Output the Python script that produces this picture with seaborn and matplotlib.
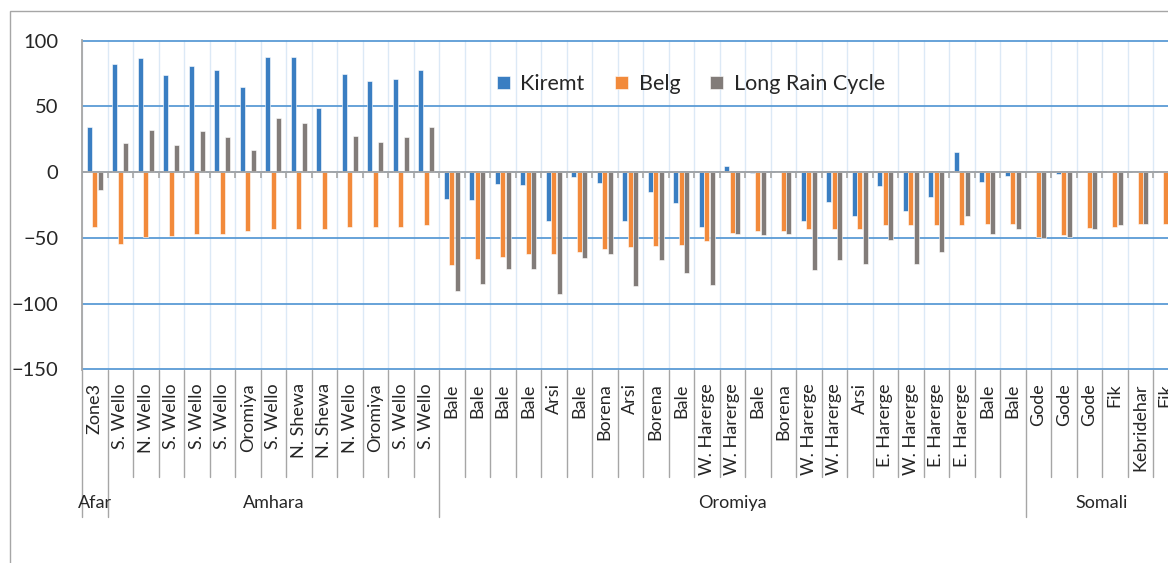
import numpy as np
import pandas as pd
import matplotlib
matplotlib.use("Agg")
import matplotlib.pyplot as plt
from matplotlib.patches import Rectangle
import seaborn as sns

# --- 1. Data ---
regions = ["Afar", "Amhara", "Oromiya", "Somali"]
region_sizes = [1, 13, 23, 6]

districts = [
    "Zone3",
    "S. Wello", "N. Wello", "S. Wello", "S. Wello", "S. Wello", "Oromiya", "S. Wello",
    "N. Shewa", "N. Shewa", "N. Wello", "Oromiya", "S. Wello", "S. Wello",
    "Bale", "Bale", "Bale", "Bale", "Arsi", "Bale", "Borena", "Arsi", "Borena", "Bale",
    "W. Harerge", "W. Harerge", "Bale", "Borena", "W. Harerge", "W. Harerge", "Arsi",
    "E. Harerge", "W. Harerge", "E. Harerge", "E. Harerge", "Bale", "Bale",
    "Gode", "Gode", "Gode", "Fik", "Kebridehar", "Fik",
]

kiremt = [34, 82, 87, 74, 81, 77.5, 65, 88, 88, 49, 75, 69.5, 71, 77.5,
          -20.5, -21.5, -9, -10, -37.5, -4, -8, -37, -15, -23.5, -42, 5, -1, 0,
          -37, -23, -33, -10.5, -29.5, -19, 15, -7.5, -3,
          0, -1.5, 0, 1, 0, 0]
belg = [-42, -55, -49, -48.5, -47, -47, -45, -43, -43, -43, -42, -42, -42, -40.5,
        -70.5, -66, -64.5, -62.5, -62.5, -60.5, -58.5, -57, -56, -55.5, -52.5, -46,
        -45, -45, -43.5, -43.5, -43.5, -40.5, -40.5, -40.5, -40.5, -39.5, -39.5,
        -49, -48, -42.5, -41.5, -39.5, -39.5]
long_rain = [-13.5, 22, 32, 21, 31, 26.5, 16.5, 41, 37.5, 0, 27.5, 23, 26.5, 34.5,
             -90.5, -85, -73.5, -73.5, -93, -65.5, -62.5, -87, -67, -77, -86, -47,
             -48, -47, -74.5, -67, -70, -51.5, -70, -61, -33.5, -47, -43.5,
             -50.5, -49.5, -43.5, -40.5, -39.5, -40]

series_names = ["Kiremt", "Belg", "Long Rain Cycle"]
colors = ["#3A7EC2", "#F28A3B", "#827C79"]

# --- 2. Long format for seaborn ---
n = len(districts)
df = pd.DataFrame({
    "pos": np.tile(np.arange(n), 3),
    "series": np.repeat(series_names, n),
    "value": kiremt + belg + long_rain,
})

# --- 3. Figure ---
sns.set_style("white")
plt.rcParams["font.family"] = ["Lato", "DejaVu Sans"]

W, H = 1168, 563
fig = plt.figure(figsize=(W / 100, H / 100), dpi=100)
# plot area runs a little past the right edge, like the cropped original
ax = fig.add_axes([82 / W, 1 - 370 / H, (n * 25.5) / W, 330 / H])

sns.barplot(data=df, x="pos", y="value", hue="series", hue_order=series_names,
            palette=colors, saturation=1, width=0.63, gap=0.08,
            edgecolor="white", linewidth=0.4, ax=ax)

ax.set_xlim(-0.5, n - 0.5)
ax.set_ylim(-150.6, 100.6)
ax.set_yticks([100, 50, 0, -50, -100, -150])
ax.set_xticks(np.arange(n), districts, rotation=90, fontsize=13)
ax.set_xticks(np.arange(n + 1) - 0.5, minor=True)
ax.set_xlabel("")
ax.set_ylabel("")

# gridlines
ax.set_axisbelow(True)
ax.grid(axis="y", which="major", color="#5B9BD5", lw=1.3)
ax.grid(axis="x", which="minor", color="#DCE9F6", lw=1.0)
ax.grid(axis="x", which="major", visible=False)

for s in ["top", "right", "bottom"]:
    ax.spines[s].set_visible(False)
ax.spines["left"].set_color("#A6A6A6")
ax.spines["left"].set_linewidth(1.3)

ax.tick_params(axis="y", length=6.5, width=1.2, color="#A6A6A6", pad=10.5,
               labelsize=14.5, labelcolor="#262626")
ax.tick_params(axis="x", which="both", length=0, pad=9.5, labelcolor="#262626")

# zero line with small ticks at category boundaries
ax.axhline(0, color="#A6A6A6", lw=1.3, zorder=3)
ax.vlines(np.arange(n + 1) - 0.5, -4.5, 0, color="#A6A6A6", lw=1.2, zorder=3)

# --- 4. Two-level category axis: separators and region labels ---
tr = ax.get_xaxis_transform()
edges = np.concatenate([[0], np.cumsum(region_sizes)])
for b in range(n + 1):
    y_end = -0.445 if b in edges else -0.324
    ax.plot([b - 0.5, b - 0.5], [0, y_end], color="#A6A6A6", lw=1.0,
            transform=tr, clip_on=False)
for name, start, size in zip(regions, edges[:-1], region_sizes):
    ax.text(start + size / 2 - 0.5, -0.403, name, transform=tr, ha="center",
            va="center", fontsize=13, color="#262626")

# --- 5. Legend ---
handles, labels = ax.get_legend_handles_labels()
ax.legend(handles, labels, ncol=3, frameon=False, loc="center left",
          bbox_to_anchor=(486 / W, 1 - 84 / H), bbox_transform=fig.transFigure,
          fontsize=15.5, handlelength=0.6, handleheight=0.6, handletextpad=0.5,
          columnspacing=1.4, borderpad=0, labelcolor="#262626")

# outer chart border
fig.patches.append(Rectangle((10 / W, -0.1), 1.2, 1.1 - 11 / H, transform=fig.transFigure,
                             fill=False, edgecolor="#A6A6A6", lw=1.0))

plt.savefig("out.png", dpi=100)
